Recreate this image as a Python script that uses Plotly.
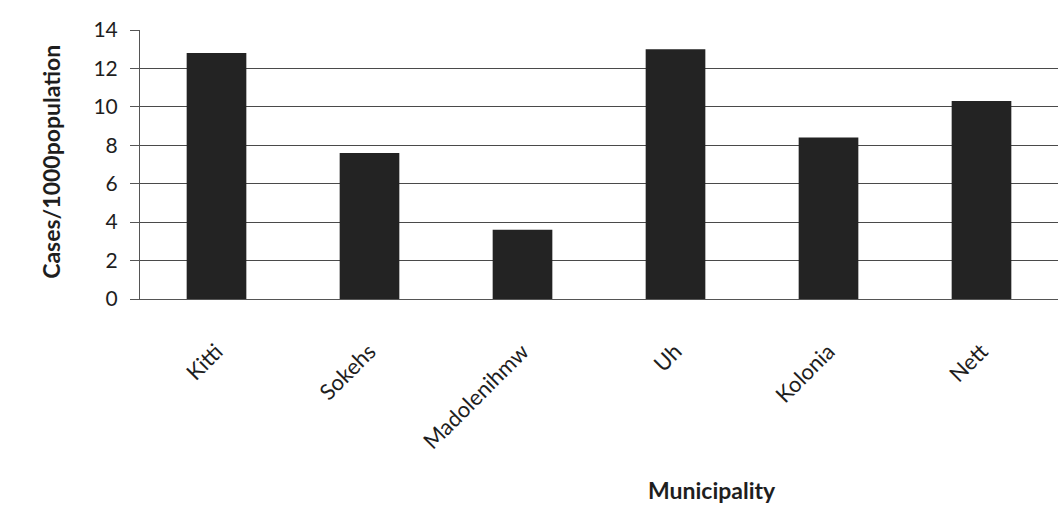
import plotly.graph_objects as go

municipalities = ["Kitti", "Sokehs", "Madolenihmw", "Uh", "Kolonia", "Nett"]
cases_per_1000 = [12.8, 7.6, 3.6, 13.0, 8.4, 10.3]
y_ticks = [0, 2, 4, 6, 8, 10, 12, 14]

FONT = "Lato"
INK = "#1e1e1e"

fig = go.Figure(
    go.Bar(
        x=municipalities,
        y=cases_per_1000,
        marker=dict(color="#232323", line=dict(width=0)),
    )
)

fig.update_layout(
    width=1059,
    height=521,
    margin=dict(l=140, r=1, t=30, b=222),
    paper_bgcolor="white",
    plot_bgcolor="white",
    bargap=0.61,
    showlegend=False,
    font=dict(family=FONT, color=INK),
)

fig.update_yaxes(
    range=[0, 14],
    tickvals=y_ticks,
    ticktext=[str(v) for v in y_ticks],
    tickfont=dict(family=FONT, size=21, color=INK),
    ticklabelstandoff=8,
    showgrid=True,
    gridcolor="#4a4a4a",
    gridwidth=1,
    showline=True,
    linecolor="#555555",
    linewidth=1,
    ticks="outside",
    ticklen=9,
    tickcolor="#555555",
    zeroline=True,
    zerolinecolor="#555555",
    zerolinewidth=1,
)

fig.update_xaxes(
    tickangle=-45,
    tickfont=dict(family=FONT, size=22, color=INK),
    ticks="outside",
    ticklen=30,
    tickcolor="rgba(0,0,0,0)",
    showline=True,
    linecolor="#555555",
    linewidth=1,
    showgrid=False,
)

fig.add_annotation(
    text="Municipality",
    xref="paper", yref="paper",
    x=0.623, y=-0.71,
    xanchor="center", yanchor="middle",
    showarrow=False,
    font=dict(family=FONT, size=23, color=INK, weight="bold"),
)

fig.add_annotation(
    text="Cases/1000population",
    xref="paper", yref="paper",
    x=-0.097, y=0.51,
    xanchor="center", yanchor="middle",
    textangle=-90,
    showarrow=False,
    font=dict(family=FONT, size=23, color=INK, weight="bold"),
)

fig.write_html("out.html")
